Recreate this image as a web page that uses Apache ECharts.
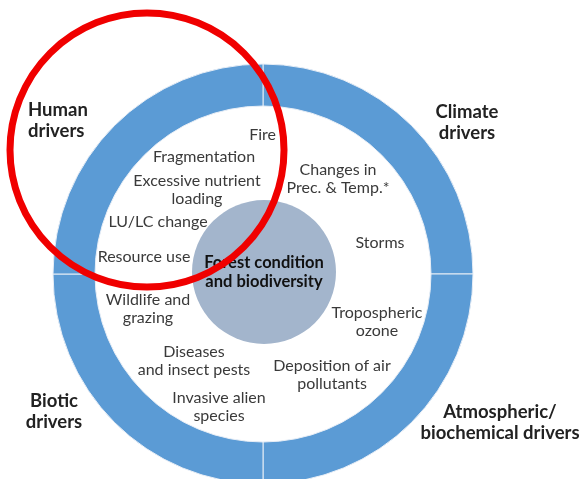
<!DOCTYPE html>
<html>
<head>
<meta charset="utf-8">
<script src="https://cdn.jsdelivr.net/npm/echarts@6/dist/echarts.min.js"></script>
<style>
  html, body { margin: 0; padding: 0; background: #fff; }
  #main { width: 582px; height: 479px; }
</style>
</head>
<body>
<div id="main"></div>
<script>
// the four driver groups round the ring (equal quarters)
var driverGroups = ['Human\ndrivers', 'Climate\ndrivers', 'Atmospheric/\nbiochemical drivers', 'Biotic\ndrivers'];
var groupShare = [1, 1, 1, 1];
var groupLabelPos = [[28, 121, 'left'], [467, 123, 'center'], [500, 423, 'center'], [54, 412, 'center']];

var centreText = 'Forest condition\nand biodiversity';

// drivers written inside the ring
var driverItems = ['Fire', 'Fragmentation', 'Excessive nutrient\nloading', 'LU/LC change', 'Resource use',
    'Wildlife and\ngrazing', 'Diseases\nand insect pests', 'Invasive alien\nspecies',
    'Changes in\nPrec. & Temp.*', 'Storms', 'Tropospheric\nozone', 'Deposition of air\npollutants'];
var itemPos = [[276, 135, 'right'], [204, 157, 'center'], [197, 190, 'center'], [158, 222, 'center'],
    [144, 257, 'center'], [148, 309, 'center'], [194, 361, 'center'], [219, 407, 'center'],
    [338, 179, 'center'], [380, 243, 'center'], [377, 322, 'center'], [332, 375, 'center']];

var font = 'Lato, "Open Sans", sans-serif';

var graphics = [];
for (var i = 0; i < driverGroups.length; i++) {
    graphics.push({
        type: 'text', x: groupLabelPos[i][0], y: groupLabelPos[i][1], z: 10,
        style: {
            text: driverGroups[i], align: groupLabelPos[i][2], verticalAlign: 'middle',
            font: 'bold 18.5px ' + font, fill: '#222', lineHeight: 21
        }
    });
}
for (var j = 0; j < driverItems.length; j++) {
    graphics.push({
        type: 'text', x: itemPos[j][0], y: itemPos[j][1], z: 10,
        style: {
            text: driverItems[j], align: itemPos[j][2], verticalAlign: 'middle',
            font: '16px ' + font, fill: '#3a3a3a', lineHeight: 18
        }
    });
}
// red highlight circle over the human drivers
graphics.push({
    type: 'circle', z: 100,
    shape: { cx: 147, cy: 150, r: 137 },
    style: { fill: 'none', stroke: '#f00000', lineWidth: 7 }
});

var chart = echarts.init(document.getElementById('main'));
chart.setOption({
    animation: false,
    series: [
        {
            type: 'pie',
            center: [263, 274],
            radius: [168, 210],
            startAngle: 90,
            silent: true,
            label: { show: false },
            itemStyle: { color: '#5b9bd5', borderColor: '#e8eef6', borderWidth: 1 },
            data: driverGroups.map(function (g, k) { return { name: g, value: groupShare[k] }; })
        },
        {
            type: 'pie',
            center: [264, 272],
            radius: [0, 72],
            silent: true,
            itemStyle: { color: '#a3b5cc' },
            label: {
                show: true, position: 'center', formatter: centreText,
                fontFamily: font, fontWeight: 'bold', fontSize: 16.5, color: '#111', lineHeight: 19
            },
            data: [{ name: 'centre', value: 1 }]
        }
    ],
    graphic: graphics
});
</script>
</body>
</html>
